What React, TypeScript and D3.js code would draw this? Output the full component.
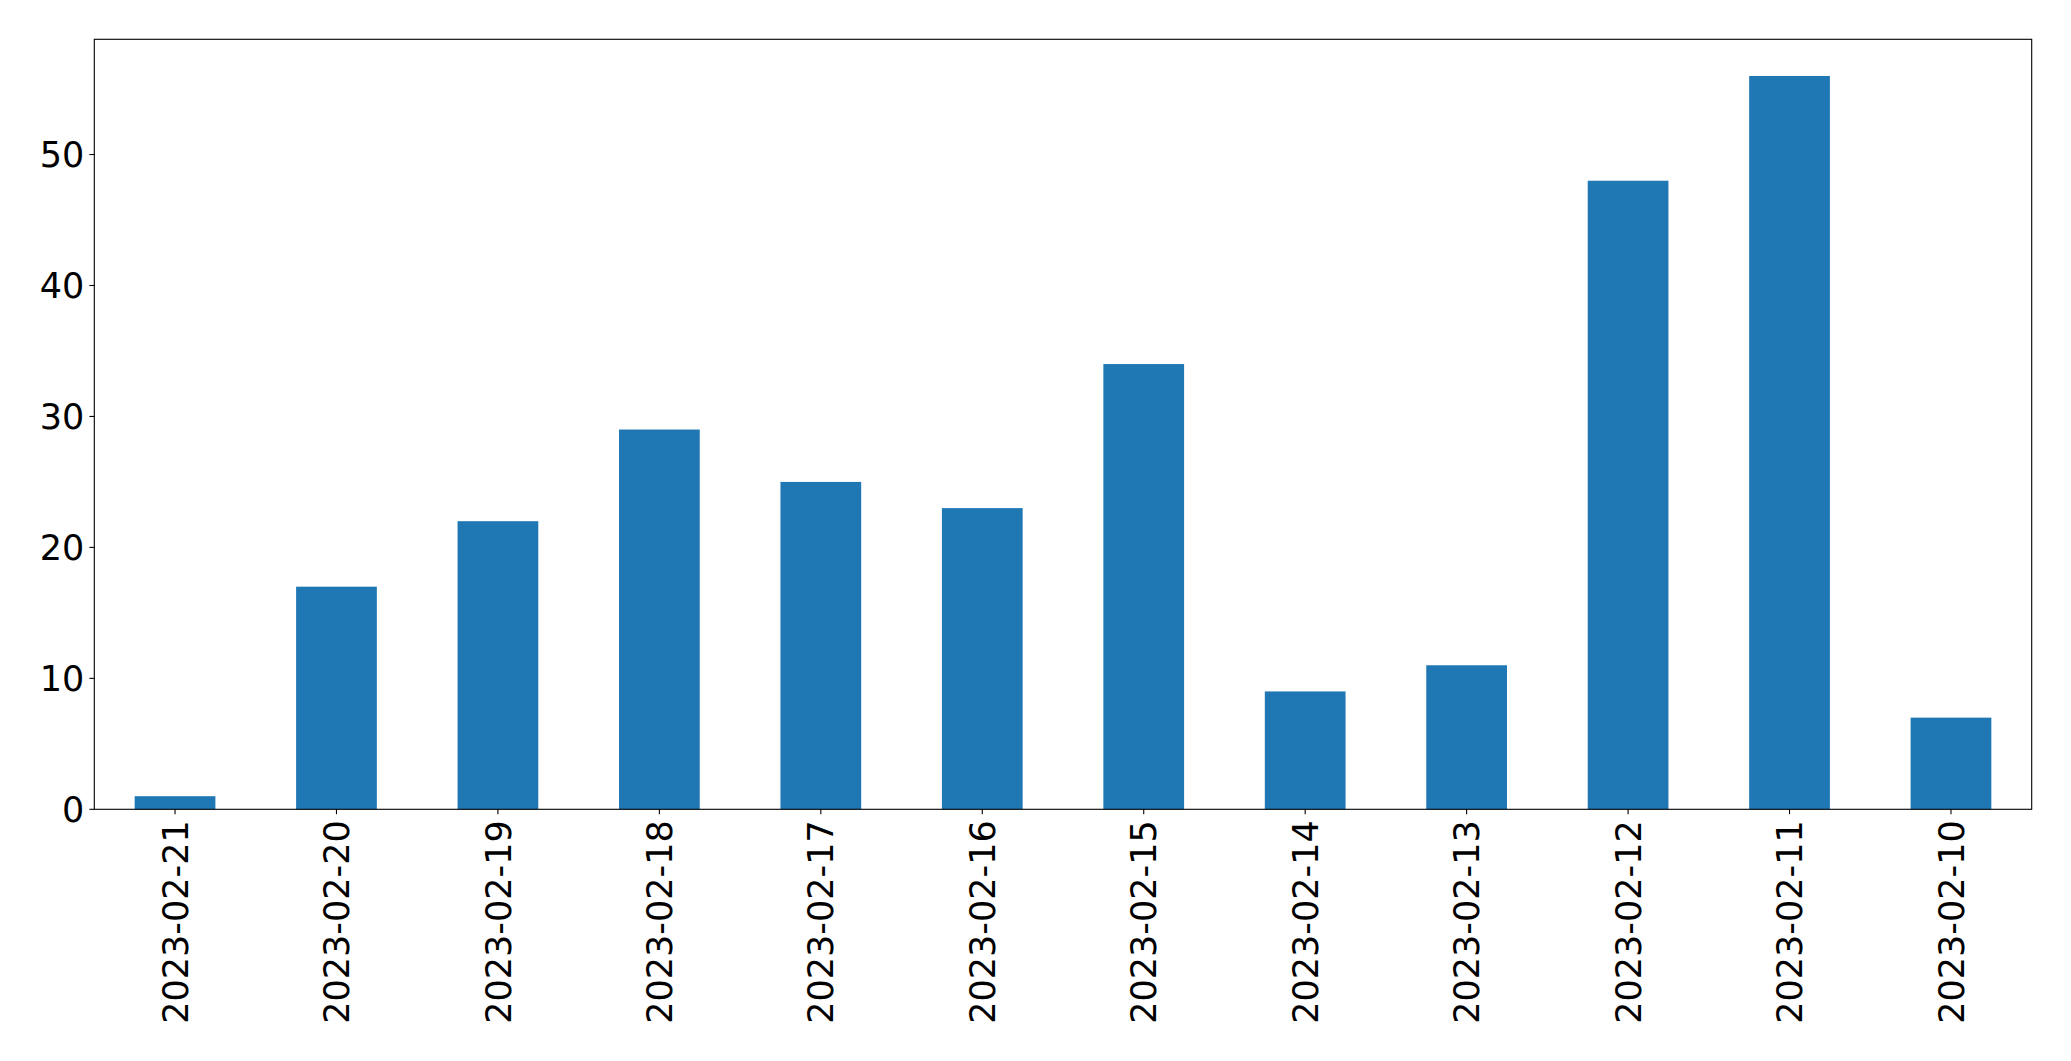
import { useEffect, useRef } from 'react';
import * as d3 from 'd3';

const dates = [
  '2023-02-21', '2023-02-20', '2023-02-19', '2023-02-18', '2023-02-17', '2023-02-16',
  '2023-02-15', '2023-02-14', '2023-02-13', '2023-02-12', '2023-02-11', '2023-02-10',
];
const counts = [1, 17, 22, 29, 25, 23, 34, 9, 11, 48, 56, 7];
const yTicks = [0, 10, 20, 30, 40, 50];

export default function App() {
  const svgRef = useRef<SVGSVGElement>(null);
  const width = 2071;
  const height = 1061;

  useEffect(() => {
    if (!svgRef.current) return;
    const svg = d3.select(svgRef.current);
    svg.selectAll('*').remove();

    const left = 94.3, right = 2031.7, top = 39.3, bottom = 809.3;
    const font = 'DejaVu Sans, sans-serif';

    const x = d3.scaleBand<string>()
      .domain(dates)
      .range([left, right])
      .paddingInner(0.5)
      .paddingOuter(0.25);

    const y = d3.scaleLinear()
      .domain([0, d3.max(counts)! * 1.05])
      .range([bottom, top]);

    svg.append('rect')
      .attr('width', width)
      .attr('height', height)
      .attr('fill', 'white');

    svg.append('g')
      .selectAll('rect')
      .data(counts)
      .enter()
      .append('rect')
      .attr('x', (_, i) => x(dates[i])!)
      .attr('width', x.bandwidth())
      .attr('y', d => y(d))
      .attr('height', d => bottom - y(d))
      .attr('fill', '#1f77b4');

    // frame
    svg.append('rect')
      .attr('x', left)
      .attr('y', top)
      .attr('width', right - left)
      .attr('height', bottom - top)
      .attr('fill', 'none')
      .attr('stroke', 'black')
      .attr('stroke-width', 1.1);

    // y ticks
    const yg = svg.append('g');
    yTicks.forEach(t => {
      yg.append('line')
        .attr('x1', left - 4.9).attr('x2', left)
        .attr('y1', y(t)).attr('y2', y(t))
        .attr('stroke', 'black').attr('stroke-width', 1.1);
      yg.append('text')
        .attr('x', left - 10)
        .attr('y', y(t))
        .attr('dy', '0.36em')
        .attr('text-anchor', 'end')
        .style('font-family', font)
        .style('font-size', '35px')
        .attr('fill', 'black')
        .text(t);
    });

    // x ticks
    const xg = svg.append('g');
    dates.forEach(d => {
      const cx = x(d)! + x.bandwidth() / 2;
      xg.append('line')
        .attr('x1', cx).attr('x2', cx)
        .attr('y1', bottom).attr('y2', bottom + 4.9)
        .attr('stroke', 'black').attr('stroke-width', 1.1);
      xg.append('text')
        .attr('transform', `translate(${cx},${bottom + 11}) rotate(-90)`)
        .attr('dy', '0.36em')
        .attr('text-anchor', 'end')
        .style('font-family', font)
        .style('font-size', '35px')
        .attr('fill', 'black')
        .text(d);
    });
  }, []);

  return (
    <svg
      ref={svgRef}
      width={width}
      height={height}
      style={{ position: 'absolute', left: 0, top: 0 }}
    ></svg>
  );
}
